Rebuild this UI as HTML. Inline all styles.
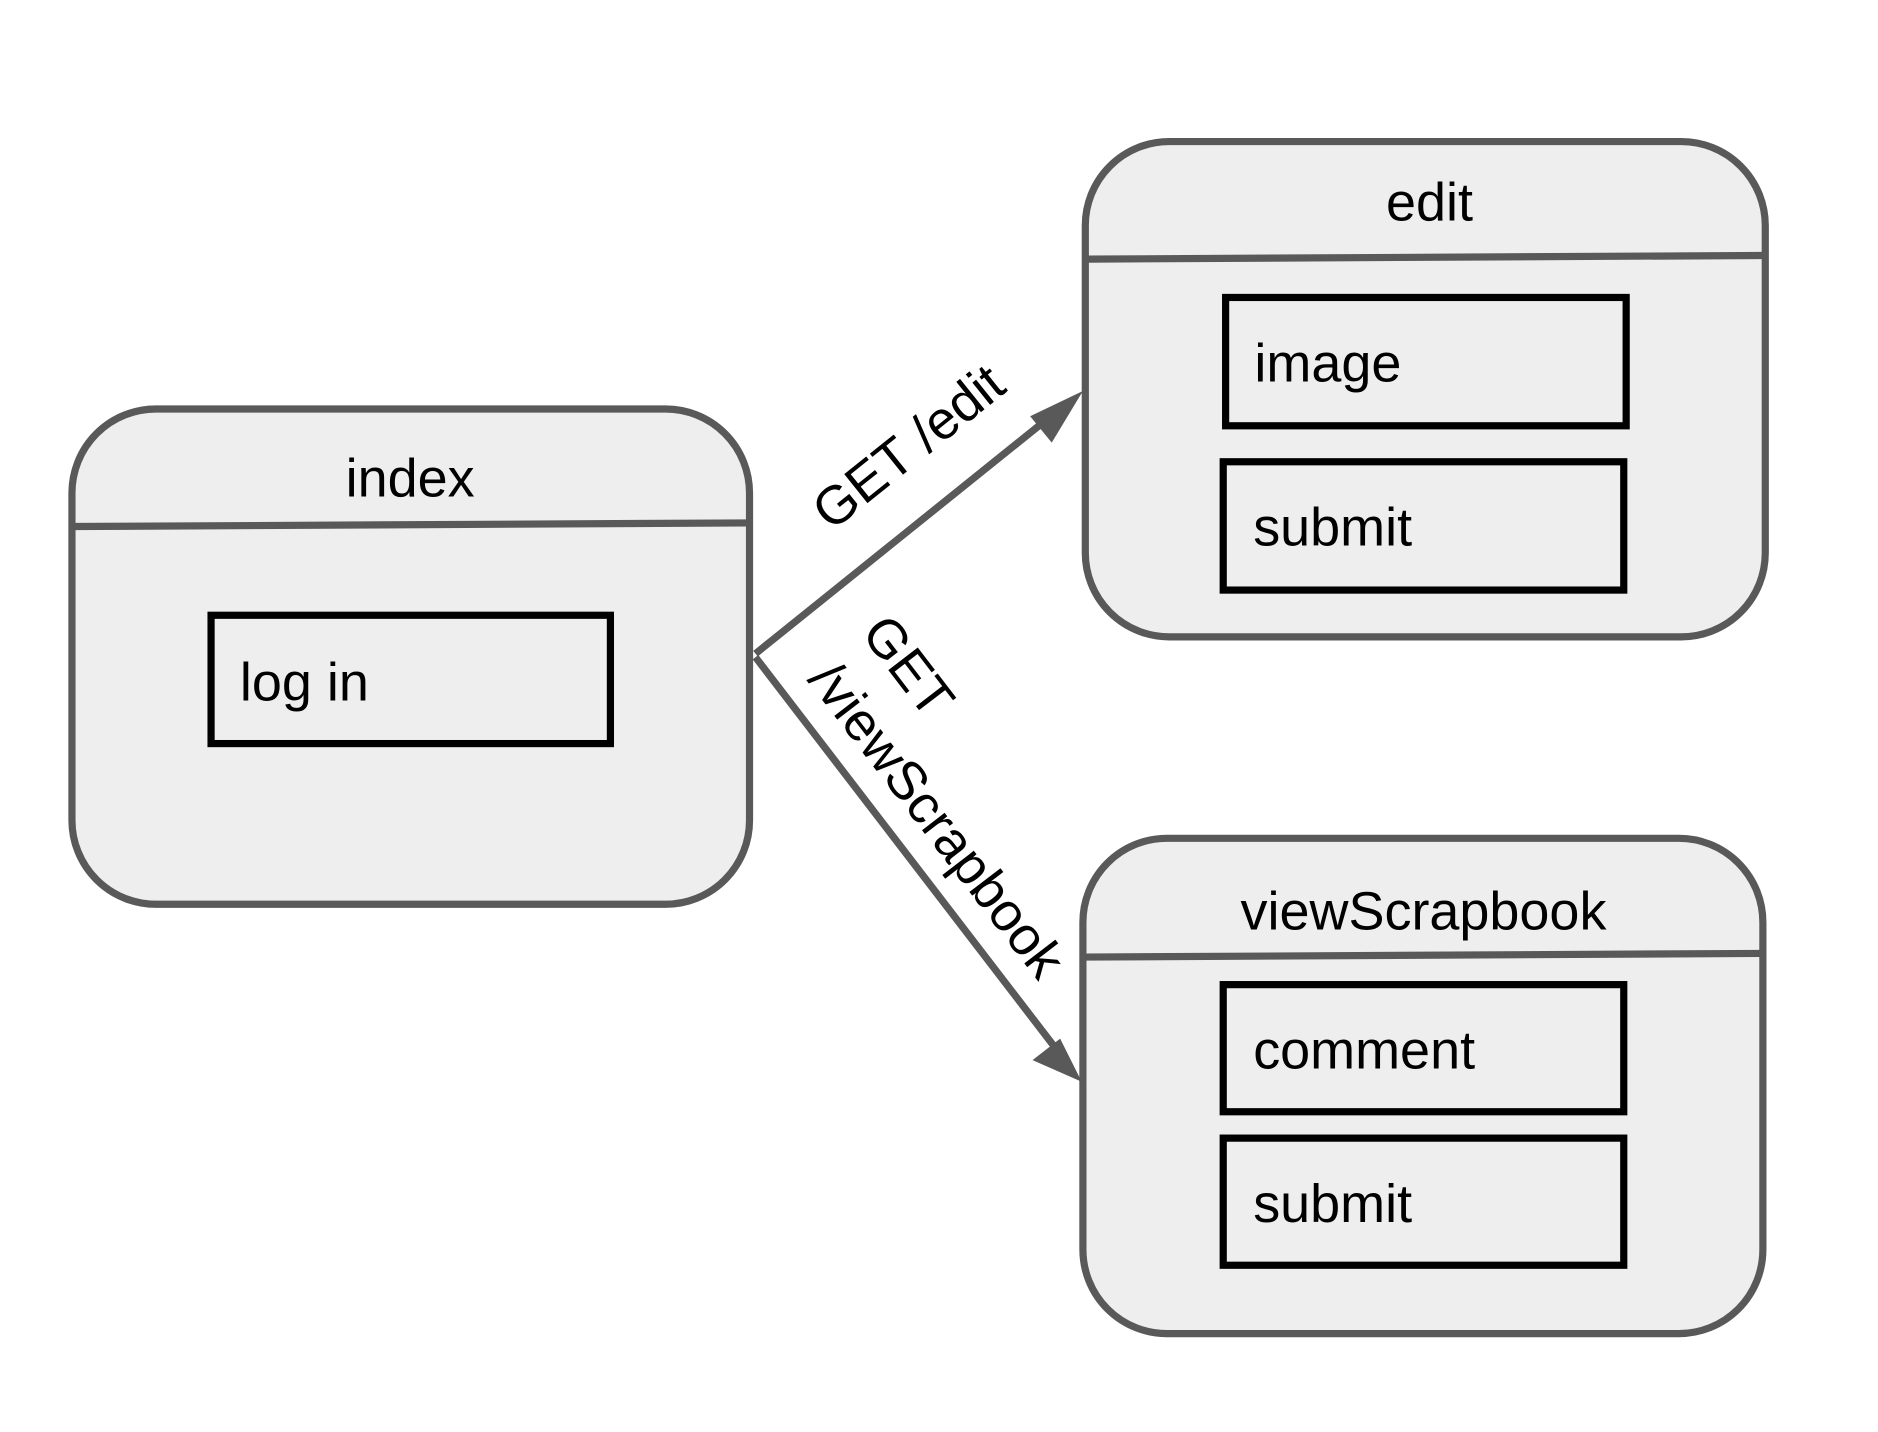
<!DOCTYPE html>
<html><head><meta charset="utf-8"><style>html,body{margin:0;padding:0;background:#fff}svg{display:block}</style></head>
<body>
<svg width="1878" height="1432" viewBox="0 0 1566 1194" xmlns="http://www.w3.org/2000/svg" font-family="Liberation Sans, Arial, sans-serif">
<rect width="1566" height="1194" fill="#fff"/>
<g fill="#eeeeee" stroke="#595959" stroke-width="6">
<rect x="60" y="341" width="565" height="413" rx="70"/>
<rect x="905" y="118" width="567" height="413" rx="70"/>
<rect x="903" y="699" width="567" height="413" rx="70"/>
</g>
<g stroke="#595959" stroke-width="6">
<line x1="62" y1="439" x2="623" y2="436"/>
<line x1="907" y1="216" x2="1470" y2="213"/>
<line x1="905" y1="798" x2="1468" y2="795"/>
</g>
<g fill="none" stroke="#000" stroke-width="6">
<rect x="176" y="513" width="333" height="107"/>
<rect x="1022" y="248" width="334" height="107"/>
<rect x="1020" y="385" width="334" height="107"/>
<rect x="1020" y="821" width="334" height="106"/>
<rect x="1020" y="949" width="334" height="106"/>
</g>
<g font-size="45" fill="#000">
<text x="342" y="414" text-anchor="middle">index</text>
<text x="1192" y="184" text-anchor="middle">edit</text>
<text x="1187" y="775" text-anchor="middle">viewScrapbook</text>
<text x="200" y="584">log in</text>
<text x="1046" y="318">image</text>
<text x="1045" y="455">submit</text>
<text x="1045" y="891">comment</text>
<text x="1045" y="1019">submit</text>
</g>
<g stroke="#595959" stroke-width="6" fill="none">
<line x1="630" y1="545" x2="880" y2="344"/>
<line x1="630" y1="548" x2="884" y2="879"/>
</g>
<g fill="#595959">
<polygon points="903,326 859,347 877,369"/>
<polygon points="902,902 861,884 884,866"/>
</g>
<g font-size="45" fill="#000" text-anchor="middle">
<text transform="translate(757,372) rotate(-38.7)" y="16">GET /edit</text>
<text transform="translate(758,555) rotate(52.5)" y="16">GET</text>
<text transform="translate(782,683) rotate(52.5)" y="16">/viewScrapbook</text>
</g>
</svg>
</body></html>
